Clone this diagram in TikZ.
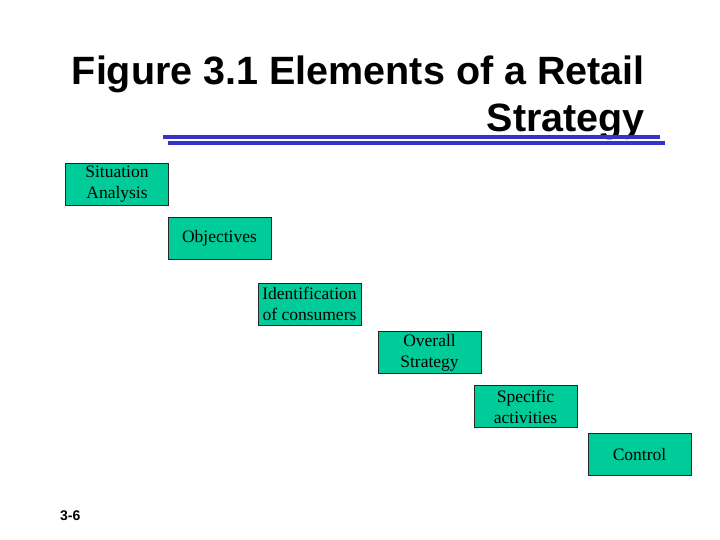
\documentclass[tikz,border=0pt]{standalone}
\usepackage{fontspec}
\setmainfont{Liberation Serif}
\newfontfamily\arialfont{Liberation Sans}
\definecolor{boxgreen}{RGB}{0,204,153}
\definecolor{rulerblue}{RGB}{51,51,204}
\begin{document}
\begin{tikzpicture}[x=1pt,y=-1pt,
  stepbox/.style={draw=black!85,line width=0.9pt,fill=boxgreen,rectangle,
    minimum width=103pt,minimum height=42pt,inner sep=0pt,align=center,
    font=\fontsize{17.5}{21}\selectfont},
  rulerline/.style={draw=rulerblue,line width=4pt}]
\useasboundingbox (0,0) rectangle (720,540);
\fill[white] (0,0) rectangle (720,540);
\node[anchor=north east,inner sep=0pt,align=right,
  font=\arialfont\bfseries\fontsize{39.5}{47}\selectfont] (title) at (645,55.5)
  {Figure 3.1 Elements of a Retail\\Strategy};
\coordinate (r1a) at (163,137); \coordinate (r1b) at (660,137);
\coordinate (r2a) at (168,143); \coordinate (r2b) at (665,143);
\draw[rulerline] (r1a) -- (r1b);
\draw[rulerline] (r2a) -- (r2b);
\node[stepbox] (sa) at (117,184) {Situation\\Analysis};
\node[stepbox] (ob) at (219.5,238.5) {Objectives};
\node[stepbox] (id) at (309.5,304) {Identification\\of consumers};
\node[stepbox] (os) at (429.5,352.5) {Overall\\Strategy};
\node[stepbox] (sp) at (525.5,406.5) {Specific\\activities};
\node[stepbox] (co) at (639.5,454.5) {Control};
\node[anchor=west,inner sep=0pt,font=\arialfont\bfseries\fontsize{14}{16}\selectfont] (pg) at (60,516) {3-6};
\end{tikzpicture}
\end{document}
